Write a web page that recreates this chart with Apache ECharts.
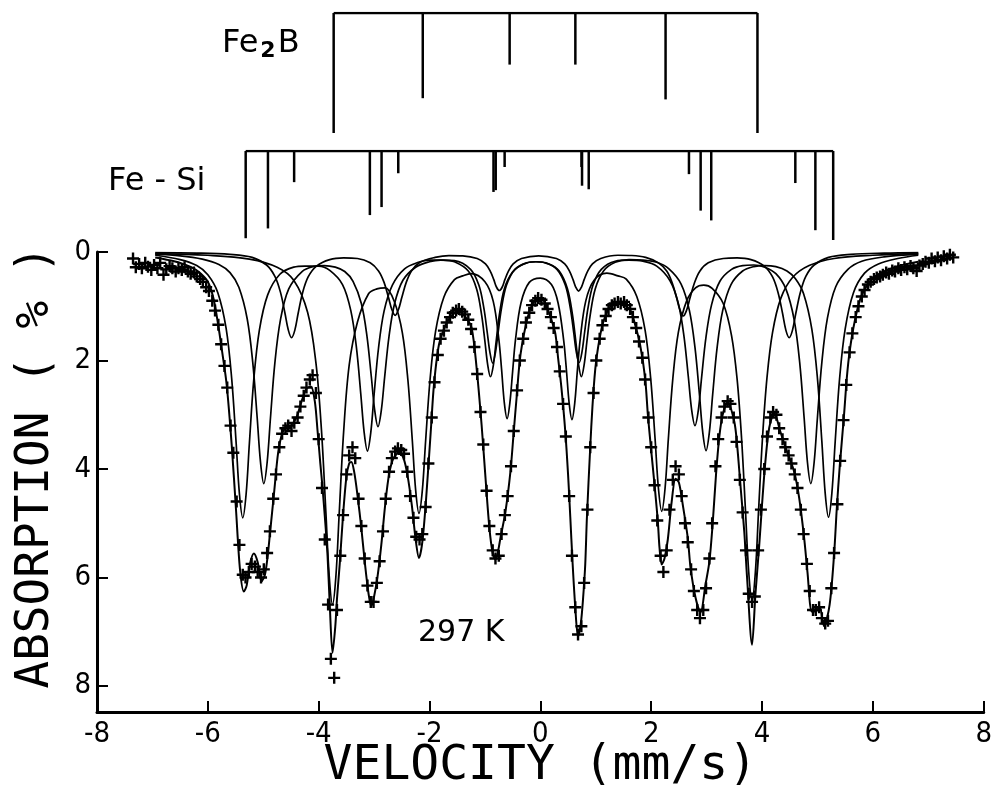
<!DOCTYPE html>
<html>
<head>
<meta charset="utf-8">
<script src="https://cdn.jsdelivr.net/npm/echarts@6/dist/echarts.min.js"></script>
<style>
  html, body { margin: 0; padding: 0; background: #fff; }
  #chart { width: 995px; height: 807px; }
</style>
</head>
<body>
<div id="chart"></div>
<script>
// tick labels
const xTicks = [-8, -6, -4, -2, 0, 2, 4, 6, 8];
const yTicks = [0, 2, 4, 6, 8];

// stick diagrams: [velocity mm/s, relative line intensity]
const fe2bLines = [[-3.75, 1], [-2.15, 0.71], [-0.59, 0.43], [0.59, 0.43], [2.21, 0.72], [3.86, 1]];
const feSiLines = [
  [-5.33, 0.98], [-4.93, 0.87], [-4.46, 0.35], [-3.10, 0.72], [-2.89, 0.63], [-2.59, 0.25],
  [-0.88, 0.46], [-0.84, 0.44], [-0.68, 0.18], [0.70, 0.18], [0.71, 0.39], [0.83, 0.43],
  [2.63, 0.26], [2.84, 0.67], [3.03, 0.78], [4.54, 0.36], [4.90, 0.89], [5.22, 1.0]
];

// fitted sub-spectra, absorption (%) vs velocity
const feSiA = [[-6.95,0.06],[-6.5,0.14],[-6.2,0.25],[-6.0,0.42],[-5.82,0.75],[-5.67,1.41],[-5.57,2.33],[-5.49,3.51],[-5.43,4.46],[-5.37,4.9],[-5.31,4.47],[-5.25,3.52],[-5.17,2.34],[-5.07,1.44],[-4.92,0.79],[-4.7,0.41],[-4.45,0.28],[-4.25,0.26],[-4.0,0.26],[-3.8,0.34],[-3.57,0.6],[-3.42,1.08],[-3.32,1.75],[-3.24,2.62],[-3.18,3.32],[-3.12,3.67],[-3.06,3.33],[-3.0,2.63],[-2.92,1.77],[-2.82,1.09],[-2.67,0.61],[-2.45,0.31],[-2.2,0.19],[-2.0,0.15],[-1.75,0.15],[-1.55,0.18],[-1.3,0.35],[-1.15,0.68],[-1.06,1.16],[-1.0,1.65],[-0.95,2.08],[-0.9,2.3],[-0.85,2.1],[-0.8,1.67],[-0.74,1.16],[-0.65,0.68],[-0.5,0.37],[-0.3,0.22],[-0.08,0.18],[0.15,0.22],[0.34,0.35],[0.49,0.68],[0.58,1.16],[0.64,1.65],[0.69,2.08],[0.74,2.3],[0.79,2.08],[0.84,1.65],[0.9,1.16],[0.99,0.68],[1.14,0.35],[1.35,0.19],[1.6,0.14],[1.85,0.15],[2.1,0.19],[2.32,0.31],[2.54,0.59],[2.69,1.08],[2.79,1.76],[2.87,2.62],[2.93,3.32],[2.99,3.66],[3.05,3.32],[3.11,2.62],[3.19,1.76],[3.29,1.08],[3.44,0.6],[3.65,0.35],[3.85,0.27],[4.05,0.25],[4.25,0.27],[4.45,0.35],[4.6,0.49],[4.75,0.77],[4.9,1.43],[5.0,2.33],[5.08,3.5],[5.14,4.45],[5.2,4.89],[5.26,4.45],[5.32,3.5],[5.4,2.33],[5.5,1.42],[5.65,0.75],[5.85,0.39],[6.1,0.22],[6.45,0.12],[6.82,0.06]];

const feSiB = [[-6.95,0.04],[-6.5,0.07],[-6.1,0.13],[-5.8,0.23],[-5.6,0.38],[-5.44,0.65],[-5.29,1.23],[-5.19,2.03],[-5.11,3.05],[-5.05,3.87],[-4.99,4.27],[-4.93,3.88],[-4.87,3.06],[-4.79,2.04],[-4.69,1.25],[-4.54,0.68],[-4.3,0.36],[-4.1,0.27],[-3.9,0.25],[-3.7,0.28],[-3.53,0.36],[-3.38,0.54],[-3.23,0.95],[-3.13,1.54],[-3.05,2.3],[-2.99,2.91],[-2.93,3.22],[-2.87,2.92],[-2.81,2.31],[-2.73,1.55],[-2.63,0.95],[-2.48,0.52],[-2.25,0.28],[-2.0,0.18],[-1.8,0.15],[-1.55,0.16],[-1.26,0.32],[-1.11,0.61],[-1.02,1.03],[-0.96,1.47],[-0.91,1.85],[-0.86,2.05],[-0.81,1.85],[-0.76,1.47],[-0.7,1.03],[-0.61,0.61],[-0.46,0.32],[-0.25,0.2],[-0.08,0.18],[0.1,0.2],[0.3,0.32],[0.45,0.61],[0.54,1.03],[0.6,1.47],[0.65,1.85],[0.7,2.04],[0.75,1.85],[0.8,1.47],[0.86,1.03],[0.95,0.61],[1.1,0.32],[1.35,0.17],[1.6,0.15],[1.85,0.17],[2.1,0.26],[2.34,0.53],[2.49,0.95],[2.59,1.54],[2.67,2.3],[2.73,2.91],[2.79,3.2],[2.85,2.92],[2.91,2.31],[2.99,1.56],[3.09,0.97],[3.24,0.54],[3.45,0.32],[3.65,0.25],[3.85,0.24],[4.05,0.28],[4.25,0.4],[4.43,0.68],[4.58,1.25],[4.68,2.04],[4.76,3.06],[4.82,3.88],[4.88,4.27],[4.94,3.88],[5.0,3.05],[5.08,2.03],[5.18,1.22],[5.33,0.64],[5.55,0.32],[5.8,0.17],[6.2,0.09],[6.82,0.04]];

const feSiC = [[-6.95,0.01],[-6.2,0.02],[-5.6,0.045],[-5.2,0.1],[-4.94,0.24],[-4.79,0.45],[-4.69,0.74],[-4.61,1.12],[-4.55,1.43],[-4.49,1.58],[-4.43,1.44],[-4.37,1.13],[-4.29,0.75],[-4.19,0.46],[-4.04,0.26],[-3.8,0.14],[-3.55,0.11],[-3.3,0.12],[-3.07,0.2],[-2.92,0.35],[-2.82,0.56],[-2.74,0.84],[-2.68,1.06],[-2.62,1.17],[-2.56,1.06],[-2.5,0.84],[-2.42,0.56],[-2.32,0.34],[-2.17,0.19],[-1.9,0.1],[-1.65,0.065],[-1.4,0.07],[-1.14,0.12],[-0.99,0.22],[-0.9,0.36],[-0.84,0.51],[-0.79,0.65],[-0.74,0.71],[-0.69,0.65],[-0.64,0.51],[-0.58,0.36],[-0.49,0.22],[-0.34,0.12],[-0.03,0.07],[0.29,0.12],[0.44,0.22],[0.53,0.36],[0.59,0.51],[0.64,0.65],[0.69,0.72],[0.74,0.65],[0.79,0.51],[0.85,0.36],[0.94,0.22],[1.09,0.12],[1.4,0.06],[1.65,0.065],[1.9,0.1],[2.13,0.2],[2.28,0.35],[2.38,0.57],[2.46,0.85],[2.52,1.07],[2.58,1.18],[2.64,1.07],[2.7,0.85],[2.78,0.57],[2.88,0.35],[3.03,0.2],[3.3,0.12],[3.55,0.11],[3.8,0.14],[4.04,0.26],[4.19,0.46],[4.29,0.75],[4.37,1.13],[4.43,1.44],[4.49,1.58],[4.55,1.44],[4.61,1.13],[4.69,0.75],[4.79,0.45],[4.94,0.24],[5.2,0.1],[5.6,0.045],[6.2,0.02],[6.82,0.01]];

const fe2b = [[-6.95,0.03],[-6.0,0.06],[-5.25,0.13],[-4.75,0.28],[-4.45,0.52],[-4.2,1.11],[-4.05,2.04],[-3.95,3.28],[-3.87,4.8],[-3.81,5.97],[-3.75,6.5],[-3.69,5.99],[-3.63,4.83],[-3.55,3.32],[-3.45,2.09],[-3.3,1.29],[-3.1,0.77],[-2.95,0.68],[-2.8,0.66],[-2.64,0.9],[-2.49,1.49],[-2.39,2.36],[-2.31,3.48],[-2.25,4.39],[-2.19,4.82],[-2.13,4.4],[-2.07,3.48],[-1.99,2.35],[-1.89,1.46],[-1.74,0.83],[-1.55,0.51],[-1.4,0.44],[-1.25,0.4],[-1.0,0.55],[-0.85,0.91],[-0.75,1.6],[-0.7,2.16],[-0.65,2.78],[-0.6,3.07],[-0.55,2.78],[-0.5,2.2],[-0.45,1.63],[-0.35,0.94],[-0.2,0.56],[0.0,0.48],[0.2,0.6],[0.32,0.94],[0.42,1.62],[0.47,2.17],[0.52,2.79],[0.57,3.09],[0.62,2.79],[0.67,2.16],[0.72,1.6],[0.82,0.9],[0.97,0.52],[1.2,0.39],[1.4,0.44],[1.55,0.5],[1.74,0.82],[1.89,1.44],[1.99,2.32],[2.07,3.44],[2.13,4.35],[2.19,4.78],[2.25,4.36],[2.31,3.44],[2.39,2.34],[2.49,1.48],[2.64,0.9],[2.8,0.66],[2.95,0.61],[3.1,0.67],[3.3,0.95],[3.45,1.54],[3.55,2.34],[3.63,3.42],[3.7,4.74],[3.76,5.9],[3.82,6.42],[3.88,5.9],[3.94,4.72],[4.01,3.4],[4.09,2.31],[4.19,1.48],[4.34,0.85],[4.55,0.47],[4.85,0.25],[5.3,0.12],[6.0,0.06],[6.82,0.03]];

// total fit
const fitTotal = [[-6.95,0.1],[-6.7,0.15],[-6.5,0.2],[-6.3,0.28],[-6.15,0.38],[-6.0,0.55],[-5.9,0.85],[-5.82,1.3],[-5.74,1.85],[-5.66,2.45],[-5.57,3.55],[-5.49,4.78],[-5.42,5.85],[-5.35,6.26],[-5.3,6.15],[-5.24,5.75],[-5.17,5.56],[-5.1,5.72],[-5.03,6.07],[-4.97,5.95],[-4.92,5.6],[-4.88,5.2],[-4.8,4.39],[-4.73,3.69],[-4.65,3.32],[-4.57,3.22],[-4.5,3.2],[-4.4,3.05],[-4.31,2.76],[-4.22,2.52],[-4.14,2.48],[-4.07,2.75],[-4.02,3.3],[-3.97,3.9],[-3.93,4.35],[-3.88,5.0],[-3.84,5.6],[-3.8,6.5],[-3.75,7.39],[-3.7,6.9],[-3.67,6.4],[-3.62,5.75],[-3.56,4.85],[-3.5,4.15],[-3.45,3.9],[-3.41,3.87],[-3.36,4.05],[-3.3,4.48],[-3.23,5.09],[-3.17,5.7],[-3.1,6.3],[-3.05,6.53],[-3.0,6.35],[-2.94,6.0],[-2.87,5.4],[-2.8,4.66],[-2.73,4.1],[-2.65,3.8],[-2.55,3.7],[-2.47,3.8],[-2.4,4.1],[-2.32,4.66],[-2.25,5.3],[-2.19,5.64],[-2.13,5.35],[-2.06,4.53],[-1.97,3.19],[-1.92,2.45],[-1.83,1.71],[-1.71,1.35],[-1.6,1.17],[-1.47,1.1],[-1.35,1.2],[-1.24,1.4],[-1.15,2.14],[-1.06,3.19],[-0.99,4.16],[-0.92,5.08],[-0.86,5.55],[-0.81,5.67],[-0.76,5.5],[-0.72,5.27],[-0.63,4.79],[-0.54,4.05],[-0.48,3.31],[-0.43,2.7],[-0.36,1.9],[-0.25,1.29],[-0.15,0.98],[-0.05,0.86],[0.05,0.88],[0.13,1.05],[0.2,1.25],[0.27,1.5],[0.32,1.95],[0.38,2.5],[0.45,3.31],[0.5,4.1],[0.54,4.88],[0.58,5.7],[0.63,6.55],[0.68,7.09],[0.73,6.85],[0.77,6.4],[0.81,5.76],[0.84,4.9],[0.9,3.6],[0.94,2.85],[0.99,2.17],[1.04,1.77],[1.13,1.31],[1.26,1.01],[1.44,0.95],[1.62,1.07],[1.71,1.34],[1.8,1.71],[1.89,2.32],[1.94,3.0],[1.99,3.55],[2.06,4.29],[2.12,4.97],[2.15,5.45],[2.19,5.76],[2.24,5.65],[2.3,5.3],[2.37,4.6],[2.44,4.18],[2.5,4.25],[2.57,4.66],[2.66,5.27],[2.71,5.82],[2.8,6.37],[2.89,6.65],[2.98,6.13],[3.05,5.71],[3.11,5.0],[3.17,4.1],[3.23,3.4],[3.29,3.0],[3.38,2.77],[3.5,3.13],[3.55,3.55],[3.61,4.29],[3.68,5.16],[3.73,6.0],[3.82,7.24],[3.88,6.32],[3.95,5.4],[4.0,4.66],[4.06,3.87],[4.13,3.24],[4.22,2.97],[4.33,3.31],[4.45,3.68],[4.58,4.05],[4.67,4.53],[4.76,5.27],[4.82,5.9],[4.9,6.63],[4.97,6.62],[5.04,6.55],[5.12,6.9],[5.22,6.5],[5.3,5.58],[5.35,4.71],[5.4,3.98],[5.48,3.0],[5.53,2.32],[5.58,1.84],[5.67,1.29],[5.8,0.79],[6.03,0.46],[6.39,0.28],[6.82,0.18]];

// measured points
const measured = [[-7.35,0.12],[-7.3,0.28],[-7.24,0.22],[-7.19,0.3],[-7.13,0.2],[-7.08,0.27],[-7.02,0.33],[-6.97,0.24],[-6.91,0.3],[-6.86,0.2],[-6.8,0.42],[-6.75,0.32],[-6.69,0.26],[-6.64,0.3],[-6.58,0.36],[-6.53,0.3],[-6.47,0.33],[-6.42,0.28],[-6.36,0.36],[-6.31,0.4],[-6.25,0.38],[-6.2,0.45],[-6.14,0.5],[-6.09,0.55],[-6.03,0.65],[-5.98,0.72],[-5.92,0.9],[-5.87,1.08],[-5.81,1.34],[-5.76,1.7],[-5.7,2.1],[-5.65,2.5],[-5.59,3.2],[-5.54,3.7],[-5.48,4.6],[-5.43,5.4],[-5.37,5.95],[-5.32,6.0],[-5.26,5.9],[-5.21,5.75],[-5.15,5.8],[-5.1,5.9],[-5.04,6.0],[-4.99,5.85],[-4.93,5.55],[-4.88,5.15],[-4.82,4.55],[-4.77,4.1],[-4.71,3.6],[-4.66,3.35],[-4.6,3.25],[-4.55,3.2],[-4.49,3.3],[-4.44,3.15],[-4.38,3.05],[-4.33,2.85],[-4.27,2.65],[-4.22,2.5],[-4.16,2.35],[-4.11,2.27],[-4.05,2.6],[-4.0,3.45],[-3.94,4.35],[-3.89,5.3],[-3.83,6.5],[-3.78,7.5],[-3.72,7.85],[-3.67,6.6],[-3.61,5.6],[-3.56,4.85],[-3.5,4.1],[-3.45,3.75],[-3.39,3.6],[-3.34,3.8],[-3.28,4.55],[-3.23,5.05],[-3.17,5.65],[-3.12,6.15],[-3.06,6.45],[-3.01,6.45],[-2.95,6.1],[-2.9,5.7],[-2.84,5.15],[-2.79,4.55],[-2.73,4.05],[-2.68,3.8],[-2.62,3.68],[-2.57,3.62],[-2.51,3.65],[-2.46,3.72],[-2.4,4.05],[-2.35,4.5],[-2.29,4.9],[-2.24,5.25],[-2.18,5.3],[-2.13,5.2],[-2.07,4.7],[-2.02,3.9],[-1.96,3.05],[-1.91,2.4],[-1.85,1.9],[-1.8,1.6],[-1.74,1.45],[-1.69,1.3],[-1.63,1.2],[-1.58,1.12],[-1.52,1.08],[-1.47,1.05],[-1.41,1.1],[-1.36,1.15],[-1.3,1.25],[-1.25,1.42],[-1.19,1.75],[-1.14,2.25],[-1.08,2.95],[-1.03,3.55],[-0.97,4.4],[-0.92,5.05],[-0.86,5.5],[-0.81,5.65],[-0.75,5.6],[-0.7,5.2],[-0.64,4.85],[-0.59,4.5],[-0.53,3.95],[-0.48,3.3],[-0.42,2.55],[-0.37,2.0],[-0.31,1.6],[-0.26,1.3],[-0.2,1.12],[-0.15,0.98],[-0.09,0.9],[-0.04,0.85],[0.02,0.88],[0.08,0.95],[0.13,1.05],[0.19,1.2],[0.24,1.4],[0.3,1.75],[0.35,2.2],[0.41,2.8],[0.46,3.4],[0.52,4.5],[0.57,5.6],[0.63,6.55],[0.68,7.05],[0.74,6.9],[0.79,6.1],[0.85,4.75],[0.9,3.6],[0.96,2.6],[1.01,2.0],[1.07,1.6],[1.12,1.35],[1.18,1.18],[1.23,1.05],[1.29,0.98],[1.34,0.95],[1.4,0.92],[1.45,0.95],[1.51,0.92],[1.56,0.98],[1.62,1.05],[1.67,1.2],[1.73,1.4],[1.78,1.65],[1.84,1.95],[1.89,2.35],[1.95,3.05],[2.0,3.6],[2.06,4.3],[2.11,4.95],[2.17,5.6],[2.22,5.9],[2.28,5.5],[2.33,4.75],[2.39,4.2],[2.44,3.95],[2.5,4.1],[2.55,4.5],[2.61,5.0],[2.66,5.35],[2.72,5.85],[2.77,6.25],[2.83,6.6],[2.88,6.75],[2.94,6.6],[2.99,6.2],[3.05,5.65],[3.1,5.0],[3.16,3.95],[3.21,3.45],[3.27,3.05],[3.32,2.85],[3.38,2.75],[3.43,2.8],[3.49,3.05],[3.54,3.5],[3.6,4.2],[3.65,4.8],[3.71,5.5],[3.76,6.3],[3.82,6.45],[3.87,6.35],[3.93,5.5],[3.98,4.75],[4.04,4.0],[4.09,3.4],[4.15,3.05],[4.2,2.95],[4.26,3.0],[4.31,3.25],[4.37,3.45],[4.42,3.6],[4.48,3.75],[4.53,3.9],[4.59,4.1],[4.64,4.35],[4.7,4.75],[4.75,5.2],[4.81,5.75],[4.86,6.25],[4.92,6.6],[4.97,6.6],[5.03,6.55],[5.08,6.75],[5.14,6.85],[5.19,6.8],[5.25,6.2],[5.3,5.55],[5.36,4.65],[5.41,3.85],[5.47,3.1],[5.52,2.45],[5.58,1.85],[5.63,1.5],[5.69,1.2],[5.74,1.0],[5.8,0.82],[5.85,0.7],[5.91,0.6],[5.96,0.55],[6.02,0.5],[6.07,0.47],[6.13,0.45],[6.18,0.42],[6.24,0.38],[6.29,0.4],[6.35,0.34],[6.4,0.36],[6.46,0.3],[6.51,0.33],[6.57,0.28],[6.62,0.32],[6.68,0.26],[6.73,0.3],[6.79,0.35],[6.84,0.25],[6.9,0.22],[6.95,0.18],[7.01,0.2],[7.06,0.12],[7.12,0.17],[7.17,0.1],[7.23,0.15],[7.28,0.08],[7.34,0.12],[7.39,0.05],[7.45,0.1]];

const INK = '#000';
const tickFont = "'DejaVu Sans Condensed', 'Liberation Sans Narrow', 'DejaVu Sans', sans-serif";
const titleFont = "'DejaVu Sans Mono', monospace";
const crossSymbol = 'path://M4,0H6V4H10V6H6V10H4V6H0V4H4Z';

const chart = echarts.init(document.getElementById('chart'), null, { renderer: 'canvas' });

// vertical stick from the baseline down to its intensity
const stickItem = (params, api) => {
  const a = api.coord([api.value(0), 0]);
  const b = api.coord([api.value(0), api.value(1)]);
  return {
    type: 'line',
    shape: { x1: a[0], y1: a[1], x2: b[0], y2: b[1] },
    style: { stroke: INK, lineWidth: 2.5 }
  };
};

const baseline = lines => [[lines[0][0], 0], [lines[lines.length - 1][0], 0]];

const subSpectrum = data => ({
  type: 'line',
  data: data,
  smooth: 0.35,
  symbol: 'none',
  lineStyle: { color: INK, width: 1.7 },
  z: 2
});

const hiddenX = idx => ({ gridIndex: idx, type: 'value', min: -8, max: 8, show: false });
const hiddenY = idx => ({ gridIndex: idx, type: 'value', min: 0, max: 1, inverse: true, show: false });

chart.setOption({
  animation: false,
  backgroundColor: '#fff',
  grid: [
    { left: 97, top: 252, width: 891, height: 460 },
    { left: 97, top: 13, width: 891, height: 120 },
    { left: 97, top: 151, width: 891, height: 89 }
  ],
  xAxis: [
    {
      gridIndex: 0,
      type: 'value',
      min: -8,
      max: 8,
      interval: 2,
      name: 'VELOCITY (mm/s)',
      nameLocation: 'middle',
      nameGap: 31,
      nameMoveOverlap: false,
      nameTextStyle: { fontFamily: titleFont, fontSize: 48, color: INK },
      axisLine: { onZero: false, lineStyle: { color: INK, width: 3 } },
      axisTick: { inside: true, length: 11, customValues: xTicks, lineStyle: { color: INK, width: 2 } },
      axisLabel: { customValues: xTicks, fontFamily: tickFont, fontSize: 29, color: INK, margin: 8 },
      splitLine: { show: false }
    },
    hiddenX(1),
    hiddenX(2)
  ],
  yAxis: [
    {
      gridIndex: 0,
      type: 'value',
      min: 0,
      max: 8.48,
      inverse: true,
      name: 'ABSORPTION ( % )',
      nameLocation: 'middle',
      nameRotate: 90,
      nameGap: 38,
      nameTextStyle: { fontFamily: titleFont, fontSize: 46, color: INK, padding: [0, 0, 0, 30] },
      axisLine: { show: true, onZero: false, lineStyle: { color: INK, width: 3 } },
      axisTick: { show: true, inside: true, length: 11, customValues: yTicks, lineStyle: { color: INK, width: 2 } },
      axisLabel: { customValues: yTicks, fontFamily: tickFont, fontSize: 29, color: INK, margin: 6 },
      splitLine: { show: false }
    },
    hiddenY(1),
    hiddenY(2)
  ],
  graphic: [
    {
      type: 'text', left: 222, top: 28,
      style: {
        text: 'Fe{s|2}B', fill: INK, font: "32px 'DejaVu Sans', sans-serif",
        rich: { s: { fontSize: 22, fontFamily: 'DejaVu Sans', fill: INK, padding: [14, 2, 0, 2], fontWeight: 'bold' } }
      }
    },
    { type: 'text', left: 108, top: 166, style: { text: 'Fe - Si', fill: INK, font: "32px 'DejaVu Sans', sans-serif" } },
    { type: 'text', left: 418, top: 618, style: { text: '297 K', fill: INK, font: "30px 'DejaVu Sans', sans-serif" } }
  ],
  series: [
    subSpectrum(feSiA),
    subSpectrum(feSiB),
    subSpectrum(feSiC),
    subSpectrum(fe2b),
    {
      type: 'line',
      data: fitTotal,
      smooth: 0.3,
      symbol: 'none',
      lineStyle: { color: INK, width: 2 },
      z: 3
    },
    {
      type: 'scatter',
      data: measured,
      symbol: crossSymbol,
      symbolSize: 12,
      itemStyle: { color: INK, opacity: 1 },
      z: 4
    },
    // Fe2B stick diagram
    {
      type: 'line', xAxisIndex: 1, yAxisIndex: 1, data: baseline(fe2bLines),
      symbol: 'none', lineStyle: { color: INK, width: 2.5 }
    },
    { type: 'custom', xAxisIndex: 1, yAxisIndex: 1, data: fe2bLines, renderItem: stickItem, clip: false },
    // Fe-Si stick diagram
    {
      type: 'line', xAxisIndex: 2, yAxisIndex: 2, data: baseline(feSiLines),
      symbol: 'none', lineStyle: { color: INK, width: 2.5 }
    },
    { type: 'custom', xAxisIndex: 2, yAxisIndex: 2, data: feSiLines, renderItem: stickItem, clip: false }
  ]
});
</script>
</body>
</html>
